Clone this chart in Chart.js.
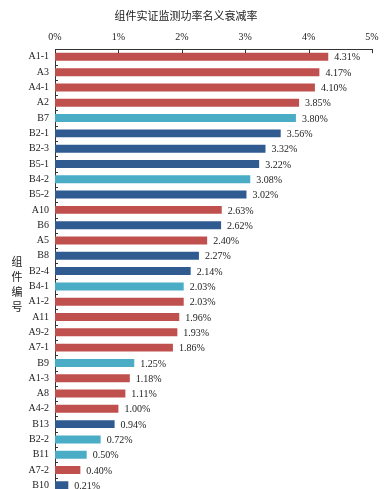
<!DOCTYPE html>
<html>
<head>
<meta charset="utf-8">
<script src="https://cdn.jsdelivr.net/npm/chart.js@4/dist/chart.umd.min.js"></script>
<style>
  html, body { margin: 0; padding: 0; background: #fff; overflow: hidden; }
  canvas { display: block; }
</style>
</head>
<body>
<canvas id="chart" width="389" height="493"></canvas>
<script>
// ---- data ----
const titleText = '组件实证监测功率名义衰减率';
const yAxisName = ['组', '件', '编', '号'];
const categories = ['A1-1','A3','A4-1','A2','B7','B2-1','B2-3','B5-1','B4-2','B5-2',
                    'A10','B6','A5','B8','B2-4','B4-1','A1-2','A11','A9-2','A7-1',
                    'B9','A1-3','A8','A4-2','B13','B2-2','B11','A7-2','B10'];
const decayRates = [4.31,4.17,4.10,3.85,3.80,3.56,3.32,3.22,3.08,3.02,
                    2.63,2.62,2.40,2.27,2.14,2.03,2.03,1.96,1.93,1.86,
                    1.25,1.18,1.11,1.00,0.94,0.72,0.50,0.40,0.21];
const groups = ['A','A','A','A','BL','BD','BD','BD','BL','BD',
                'A','BD','A','BD','BD','BL','A','A','A','A',
                'BL','A','A','A','BD','BL','BL','A','BD'];
const xTicks = [0, 1, 2, 3, 4, 5];

// ---- styles ----
const groupColors = { A: '#c0504d', BL: '#4bacc6', BD: '#2f5b91' };
const FONT = '"Liberation Serif", "Times New Roman", "Noto Sans CJK SC", serif';
const TXT = '#222';
const AXIS = '#333';

const decorPlugin = {
    id: 'decor',
    afterDraw: (chart) => {
        const ctx = chart.ctx;
        const xs = chart.scales.x;
        const ys = chart.scales.y;
        ctx.save();
        ctx.strokeStyle = AXIS;
        ctx.lineWidth = 1;
        // inward ticks on the top axis
        xTicks.forEach(v => {
            const x = Math.round(xs.getPixelForValue(v)) + 0.5;
            ctx.beginPath();
            ctx.moveTo(x, xs.bottom);
            ctx.lineTo(x, xs.bottom + 4);
            ctx.stroke();
        });
        // inward ticks between categories
        for (let i = 0; i <= categories.length; i++) {
            const y = Math.round(ys.getPixelForValue(i - 0.5)) + 0.5;
            ctx.beginPath();
            ctx.moveTo(ys.right, y);
            ctx.lineTo(ys.right + 3, y);
            ctx.stroke();
        }
        // value labels
        ctx.fillStyle = TXT;
        ctx.font = '10px ' + FONT;
        ctx.textAlign = 'left';
        ctx.textBaseline = 'middle';
        const meta = chart.getDatasetMeta(0);
        meta.data.forEach((bar, i) => {
            ctx.fillText(decayRates[i].toFixed(2) + '%', bar.x + 6, bar.y + 1);
        });
        // vertical axis name
        ctx.font = '11px "Noto Sans CJK SC", sans-serif';
        ctx.textAlign = 'center';
        yAxisName.forEach((ch, i) => {
            ctx.fillText(ch, 17, 262 + i * 15);
        });
        ctx.restore();
    }
};

new Chart(document.getElementById('chart'), {
    type: 'bar',
    data: {
        labels: categories,
        datasets: [{
            data: decayRates,
            backgroundColor: groups.map(g => groupColors[g]),
            borderWidth: 0,
            barPercentage: 0.52,
            categoryPercentage: 1
        }]
    },
    options: {
        indexAxis: 'y',
        responsive: false, animation: false,
        layout: { padding: { top: 0, bottom: 0, left: 0, right: 17 } },
        plugins: {
            legend: { display: false },
            tooltip: { enabled: false },
            title: {
                display: true, text: titleText, color: TXT,
                font: { family: FONT, size: 11, weight: 'normal' },
                padding: { top: 11, bottom: 1 }
            }
        },
        scales: {
            x: {
                position: 'top', min: 0, max: 5,
                afterFit: (s) => { s.height = 24; },
                afterBuildTicks: (s) => { s.ticks = xTicks.map(v => ({ value: v })); },
                grid: { display: false, drawTicks: false },
                border: { display: true, color: AXIS, width: 1 },
                ticks: { color: TXT, padding: 6, font: { family: FONT, size: 10 }, callback: v => v + '%' }
            },
            y: {
                // fixed width, and no label padding so the plot runs to the canvas bottom
                afterFit: (s) => { s.width = 55; s.paddingTop = 0; s.paddingBottom = 0; },
                grid: { display: false, drawTicks: false },
                border: { display: true, color: AXIS, width: 1 },
                ticks: { color: TXT, padding: 6, autoSkip: false, font: { family: FONT, size: 10 } }
            }
        }
    },
    plugins: [decorPlugin]
});
</script>
</body>
</html>
